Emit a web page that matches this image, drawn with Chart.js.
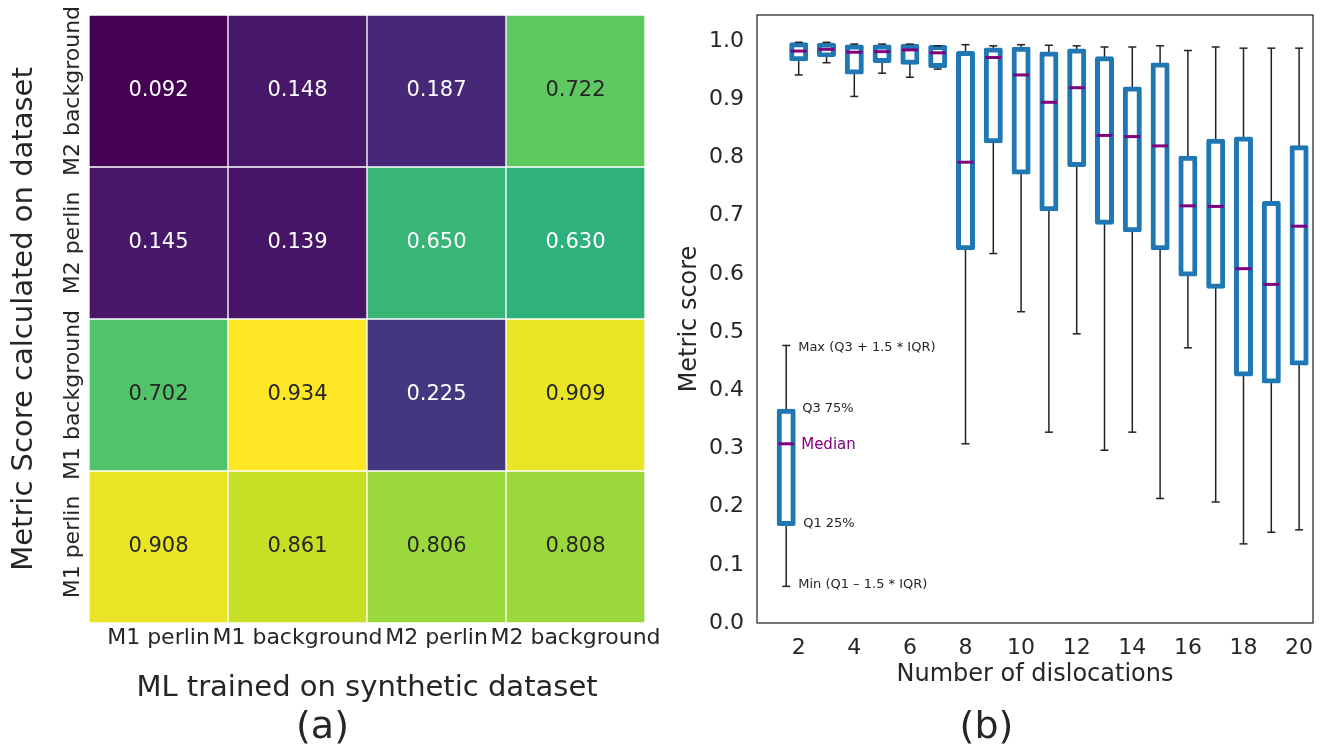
<!DOCTYPE html>
<html>
<head>
<meta charset="utf-8">
<script src="https://cdn.jsdelivr.net/npm/chart.js@4.4.0/dist/chart.umd.min.js"></script>
<style>
  body { margin: 0; background: #fff; }
  #wrap { position: relative; width: 1327px; height: 749px; }
  canvas { position: absolute; top: 0; }
  #heat { left: 0; }
  #box { left: 660px; }
</style>
</head>
<body>
<div id="wrap">
  <canvas id="heat" width="660" height="749"></canvas>
  <canvas id="box" width="667" height="749"></canvas>
</div>
<script>
// (a) heatmap
const colLabels = ["M1 perlin", "M1 background", "M2 perlin", "M2 background"];
const rowLabels = ["M2 background", "M2 perlin", "M1 background", "M1 perlin"];
const rowM2Background = [0.092, 0.148, 0.187, 0.722];
const rowM2Perlin = [0.145, 0.139, 0.650, 0.630];
const rowM1Background = [0.702, 0.934, 0.225, 0.909];
const rowM1Perlin = [0.908, 0.861, 0.806, 0.808];
const heatRows = [rowM2Background, rowM2Perlin, rowM1Background, rowM1Perlin];

// (b) box plot, one box per number of dislocations
const dislocations = [2, 3, 4, 5, 6, 7, 8, 9, 10, 11, 12, 13, 14, 15, 16, 17, 18, 19, 20];
const whiskerLow  = [0.942, 0.963, 0.905, 0.945, 0.938, 0.952, 0.308, 0.635, 0.535, 0.328, 0.497, 0.297, 0.328, 0.214, 0.473, 0.208, 0.136, 0.156, 0.160];
const quart1      = [0.970, 0.977, 0.947, 0.967, 0.964, 0.958, 0.645, 0.829, 0.775, 0.712, 0.788, 0.689, 0.676, 0.645, 0.600, 0.579, 0.428, 0.416, 0.447];
const medians     = [0.983, 0.986, 0.981, 0.982, 0.985, 0.980, 0.792, 0.972, 0.942, 0.895, 0.920, 0.838, 0.836, 0.820, 0.717, 0.716, 0.609, 0.582, 0.682];
const quart3      = [0.994, 0.993, 0.990, 0.990, 0.991, 0.989, 0.979, 0.985, 0.986, 0.978, 0.983, 0.970, 0.918, 0.959, 0.799, 0.828, 0.832, 0.721, 0.817];
const whiskerHigh = [0.998, 0.998, 0.995, 0.995, 0.995, 0.992, 0.994, 0.992, 0.994, 0.993, 0.992, 0.990, 0.990, 0.992, 0.984, 0.990, 0.988, 0.988, 0.988];
const xTicks = [2, 4, 6, 8, 10, 12, 14, 16, 18, 20];
const yTicks = [0, 0.1, 0.2, 0.3, 0.4, 0.5, 0.6, 0.7, 0.8, 0.9, 1.0];

// explanatory key box
const keyPosition = 1.55;
const keyLow = 0.063, keyQ1 = 0.171, keyMedian = 0.308, keyQ3 = 0.364, keyHigh = 0.477;

const FONT = "'DejaVu Sans', sans-serif";
const TEXT = '#262626';
Chart.defaults.font.family = FONT;
Chart.defaults.color = TEXT;

// viridis colormap
const viridis = [
  [68, 1, 84], [72, 36, 117], [65, 68, 135], [53, 95, 141], [42, 120, 142],
  [33, 145, 140], [34, 168, 132], [68, 191, 112], [122, 209, 81], [189, 223, 38], [253, 231, 37]
];
const allVals = heatRows.flat();
const vmin = Math.min(...allVals), vmax = Math.max(...allVals);
function colourRgb(v) {
  const t = Math.max(0, Math.min(1, (v - vmin) / (vmax - vmin))) * (viridis.length - 1);
  const i = Math.min(Math.floor(t), viridis.length - 2), f = t - i;
  return viridis[i].map((c, k) => Math.round(c + (viridis[i + 1][k] - c) * f));
}
function colour(v) { const c = colourRgb(v); return `rgb(${c[0]},${c[1]},${c[2]})`; }
function textColour(v) {
  const lin = colourRgb(v).map(c => { c /= 255; return c <= 0.03928 ? c / 12.92 : Math.pow((c + 0.055) / 1.055, 2.4); });
  const lum = 0.2126 * lin[0] + 0.7152 * lin[1] + 0.0722 * lin[2];
  return lum > 0.408 ? TEXT : '#ffffff';
}

const cellText = {
  id: 'cellText',
  afterDatasetsDraw(chart) {
    const ctx = chart.ctx;
    ctx.save();
    ctx.textAlign = 'center';
    ctx.textBaseline = 'middle';
    ctx.font = '21px ' + FONT;
    heatRows.forEach((row, r) => {
      chart.getDatasetMeta(r).data.forEach((bar, c) => {
        ctx.fillStyle = textColour(row[c]);
        ctx.fillText(row[c].toFixed(3), bar.x, (bar.y + bar.base) / 2);
      });
    });
    // rotated row labels
    const ys = chart.scales.y;
    ctx.fillStyle = TEXT;
    ctx.font = '22px ' + FONT;
    rowLabels.forEach((lab, r) => {
      ctx.save();
      ctx.translate(chart.chartArea.left - 16, ys.getPixelForValue(r + 0.5));
      ctx.rotate(-Math.PI / 2);
      ctx.fillText(lab, 0, 0);
      ctx.restore();
    });
    ctx.restore();
  }
};

new Chart(document.getElementById('heat'), {
  type: 'bar',
  data: {
    labels: colLabels,
    datasets: heatRows.map((row, r) => ({
      data: row.map(() => [r, r + 1]),
      backgroundColor: row.map(colour),
      borderColor: '#ffffff',
      borderWidth: 1,
      borderSkipped: false,
      grouped: false,
      barPercentage: 1,
      categoryPercentage: 1
    }))
  },
  options: {
    responsive: false,
    animation: false,
    devicePixelRatio: 1,
    layout: { padding: { left: 0, top: 15, right: 15, bottom: 0 } },
    plugins: {
      legend: { display: false },
      tooltip: { enabled: false },
      title: { display: true, position: 'bottom', text: '(a)', color: TEXT, font: { size: 38, weight: 'normal' }, padding: { top: 0, bottom: -2 } }
    },
    scales: {
      x: {
        grid: { display: false, drawTicks: false },
        border: { display: false },
        ticks: { font: { size: 22 }, padding: 2, maxRotation: 0, minRotation: 0, autoSkip: false },
        title: { display: true, text: 'ML trained on synthetic dataset', font: { size: 29 }, padding: { top: 0, bottom: 0 } },
        afterFit: s => { s.height = 82.4; s.paddingLeft = 0; s.paddingRight = 0; }
      },
      y: {
        min: 0, max: 4, reverse: true,
        grid: { display: false, drawTicks: false },
        border: { display: false },
        ticks: { display: false },
        title: { display: true, text: 'Metric Score calculated on dataset', font: { size: 29 }, padding: { top: 6.6, bottom: 0 } },
        afterFit: s => { s.width = 89; s.paddingTop = 0; s.paddingBottom = 0; }
      }
    }
  },
  plugins: [cellText]
});

// box plot
const pos = [keyPosition].concat(dislocations);
const lo = [keyLow].concat(whiskerLow);
const q1 = [keyQ1].concat(quart1);
const med = [keyMedian].concat(medians);
const q3 = [keyQ3].concat(quart3);
const hi = [keyHigh].concat(whiskerHigh);

const frame = {
  id: 'frame',
  afterDraw(chart) {
    const {ctx, chartArea: a} = chart;
    ctx.save();
    ctx.strokeStyle = TEXT;
    ctx.lineWidth = 1.25;
    ctx.strokeRect(a.left, a.top, a.right - a.left, a.bottom - a.top);
    ctx.restore();
  }
};

const keyNotes = {
  id: 'keyNotes',
  afterDatasetsDraw(chart) {
    const {ctx, scales: {x, y}} = chart;
    const x0 = x.getPixelForValue(keyPosition);
    const notes = [
      [keyHigh, 'Max (Q3 + 1.5 * IQR)', 12, 2, 13, TEXT],
      [keyQ3, 'Q3 75%', 16, -3, 13, TEXT],
      [keyMedian, 'Median', 15, 1.5, 15, '#800080'],
      [keyQ1, 'Q1 25%', 17, 0, 13, TEXT],
      [keyLow, 'Min (Q1 \u2013 1.5 * IQR)', 12, -1.5, 13, TEXT]
    ];
    ctx.save();
    ctx.textAlign = 'left';
    ctx.textBaseline = 'middle';
    notes.forEach(([v, txt, dx, dy, size, col]) => {
      ctx.font = size + 'px ' + FONT;
      ctx.fillStyle = col;
      ctx.fillText(txt, x0 + dx, y.getPixelForValue(v) + dy);
    });
    ctx.restore();
  }
};

new Chart(document.getElementById('box'), {
  type: 'bar',
  data: {
    datasets: [
      {
        type: 'bar',
        data: pos.map((p, i) => ({ x: p, y: [lo[i], hi[i]] })),
        backgroundColor: '#222222',
        barThickness: 1.5,
        inflateAmount: 0,
        grouped: false,
        order: 4
      },
      {
        type: 'bar',
        data: pos.map((p, i) => ({ x: p, y: [q1[i], q3[i]] })),
        backgroundColor: '#ffffff',
        borderColor: '#1f77b4',
        borderWidth: 5,
        borderSkipped: false,
        borderRadius: 2,
        inflateAmount: 2.5,
        barThickness: 14,
        grouped: false,
        order: 3
      },
      {
        type: 'scatter',
        data: pos.map((p, i) => ({ x: p, y: lo[i] })).concat(pos.map((p, i) => ({ x: p, y: hi[i] }))),
        pointStyle: 'line',
        pointRadius: 4,
        borderColor: '#222222',
        borderWidth: 1.5,
        order: 2
      },
      {
        type: 'scatter',
        data: pos.map((p, i) => ({ x: p, y: med[i] })),
        pointStyle: 'line',
        pointRadius: 8,
        borderColor: '#800080',
        borderWidth: 3,
        order: 1
      }
    ]
  },
  options: {
    responsive: false,
    animation: false,
    devicePixelRatio: 1,
    layout: { padding: { left: 0, top: 15, right: 14, bottom: 0 } },
    plugins: {
      legend: { display: false },
      tooltip: { enabled: false },
      title: { display: true, position: 'bottom', text: '(b)', color: TEXT, font: { size: 38, weight: 'normal' }, padding: { top: 0, bottom: -2 } }
    },
    scales: {
      x: {
        type: 'linear', min: 0.5, max: 20.5, offset: false,
        grid: { display: false, drawTicks: false },
        border: { display: false },
        afterBuildTicks: s => { s.ticks = xTicks.map(v => ({ value: v })); },
        ticks: { font: { size: 22 }, padding: 12, maxRotation: 0, minRotation: 0, autoSkip: false },
        title: { display: true, text: 'Number of dislocations', font: { size: 24 }, padding: { top: 0, bottom: 16 } },
        afterFit: s => { s.height = 82.4; s.paddingLeft = 0; s.paddingRight = 0; }
      },
      y: {
        min: 0, max: 1.045,
        grid: { display: false, drawTicks: false },
        border: { display: false },
        afterBuildTicks: s => { s.ticks = yTicks.map(v => ({ value: v })); },
        ticks: { font: { size: 22 }, padding: 13, callback: v => v.toFixed(1) },
        title: { display: true, text: 'Metric score', font: { size: 24 }, padding: { top: 15.6, bottom: 0 } },
        afterFit: s => { s.width = 97; s.paddingTop = 0; s.paddingBottom = 0; }
      }
    }
  },
  plugins: [frame, keyNotes]
});
</script>
</body>
</html>
